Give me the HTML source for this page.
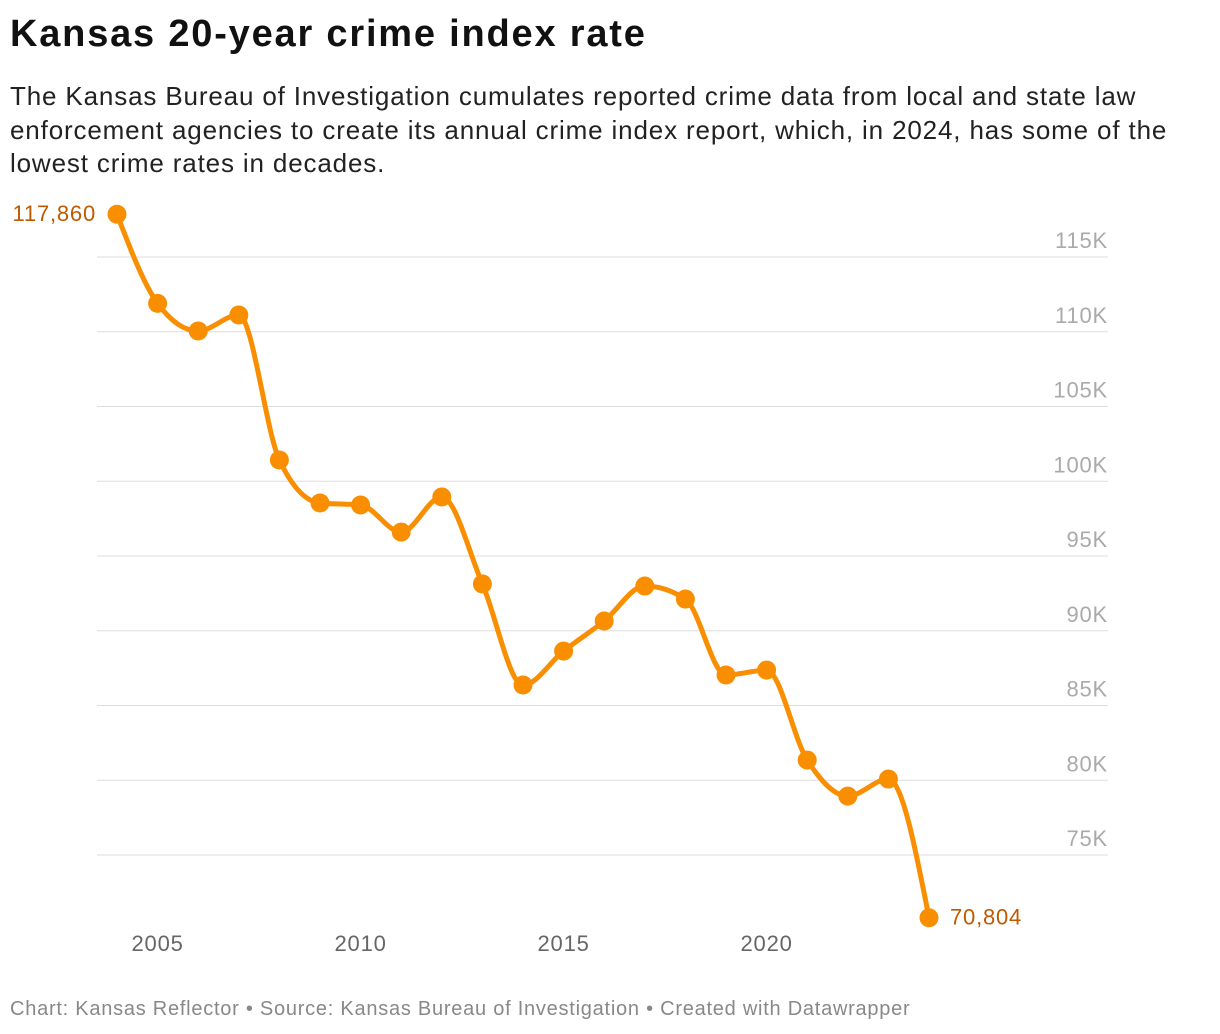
<!DOCTYPE html>
<html><head><meta charset="utf-8">
<style>
body{margin:0;background:#fff;width:1220px;height:1034px;overflow:hidden;font-family:"Liberation Sans",sans-serif;}
#title{position:absolute;left:10px;top:13px;font-size:38px;font-weight:bold;color:#111;margin:0;letter-spacing:1.8px;white-space:nowrap}
#sub{position:absolute;left:10px;top:80px;font-size:26px;line-height:33.5px;color:#222;width:1210px;margin:0;letter-spacing:0.85px;white-space:nowrap}
#foot{position:absolute;left:10px;top:998px;font-size:20px;color:#888;letter-spacing:0.75px;white-space:nowrap}
svg{position:absolute;left:0;top:0}
</style></head><body>
<h1 id="title">Kansas 20-year crime index rate</h1>
<p id="sub">The Kansas Bureau of Investigation cumulates reported crime data from local and state law<br>enforcement agencies to create its annual crime index report, which, in 2024, has some of the<br>lowest crime rates in decades.</p>
<svg id="chart" width="1220" height="1034"></svg>
<div id="foot">Chart: Kansas Reflector • Source: Kansas Bureau of Investigation • Created with Datawrapper</div>
<script>
const years=[2004,2005,2006,2007,2008,2009,2010,2011,2012,2013,2014,2015,2016,2017,2018,2019,2020,2021,2022,2023,2024];
const values=[117860,111900,110050,111120,101420,98545,98410,96600,98950,93130,86370,88640,90650,92990,92120,87040,87370,81350,78940,80080,70804];
const yTicks=[75000,80000,85000,90000,95000,100000,105000,110000,115000];
const yTickLabels=["75K","80K","85K","90K","95K","100K","105K","110K","115K"];
const xTicks=[2005,2010,2015,2020];
const NS="http://www.w3.org/2000/svg";
const svg=document.getElementById('chart');
const x=y=>117+(y-2004)*(929-117)/20;
const yS=v=>257+(115000-v)*74.75/5000;
function mk(t,a,p){const e=document.createElementNS(NS,t);for(const k in a)e.setAttribute(k,a[k]);(p||svg).appendChild(e);return e;}
yTicks.forEach((t,i)=>{
 const l=mk('line',{x1:97,x2:1108,y1:yS(t),y2:yS(t),stroke:'#ddd','stroke-width':1});
 
 
 const tx=mk('text',{x:1108,y:yS(t)-9,'text-anchor':'end','font-size':22,fill:'#aaa','font-family':'Liberation Sans','letter-spacing':0.8});
 tx.textContent=yTickLabels[i];
 
 
});
xTicks.forEach(t=>{
 const tx=mk('text',{x:x(t),y:951,'text-anchor':'middle','font-size':22,fill:'#666','font-family':'Liberation Sans','letter-spacing':0.8});
 tx.textContent=t;
 
 
});
const px=years.map(x),py=values.map(yS),n=px.length;
const sl=[];for(let i=0;i<n-1;i++)sl.push((py[i+1]-py[i])/(px[i+1]-px[i]));
const m=[];
for(let i=0;i<n;i++){
 if(i==0)m.push(sl[0]);else if(i==n-1)m.push(sl[n-2]);
 else{const a=sl[i-1],b=sl[i];if(a*b<=0)m.push(0);else{const h0=px[i]-px[i-1],h1=px[i+1]-px[i];const p=(a*h1+b*h0)/(h0+h1);m.push((Math.sign(a)+Math.sign(b))*Math.min(Math.abs(a),Math.abs(b),0.5*Math.abs(p)));}}
}
m[0]=(3*sl[0]-m[1])/2;m[n-1]=(3*sl[n-2]-m[n-2])/2;
let d=`M${px[0]},${py[0]}`;
for(let i=0;i<n-1;i++){const h=(px[i+1]-px[i])/3;d+=`C${px[i]+h},${py[i]+m[i]*h} ${px[i+1]-h},${py[i+1]-m[i+1]*h} ${px[i+1]},${py[i+1]}`;}
const path=mk('path',{d:d,fill:'none',stroke:'#f98f00','stroke-width':5,'stroke-linejoin':'round'});


for(let i=0;i<n;i++){
 const c=mk('circle',{cx:px[i],cy:py[i],r:9.5,fill:'#f98f00'});
 
 
}
const fmt=v=>v.toLocaleString('en-US');
const a=mk('text',{x:96,y:py[0]+7,'text-anchor':'end','font-size':22,fill:'#c05a00','font-family':'Liberation Sans','letter-spacing':0.8});
a.textContent=fmt(values[0]);


const b=mk('text',{x:px[n-1]+21,y:py[n-1]+7,'font-size':22,fill:'#c05a00','font-family':'Liberation Sans','letter-spacing':0.8});
b.textContent=fmt(values[n-1]);


</script>
</body></html>
